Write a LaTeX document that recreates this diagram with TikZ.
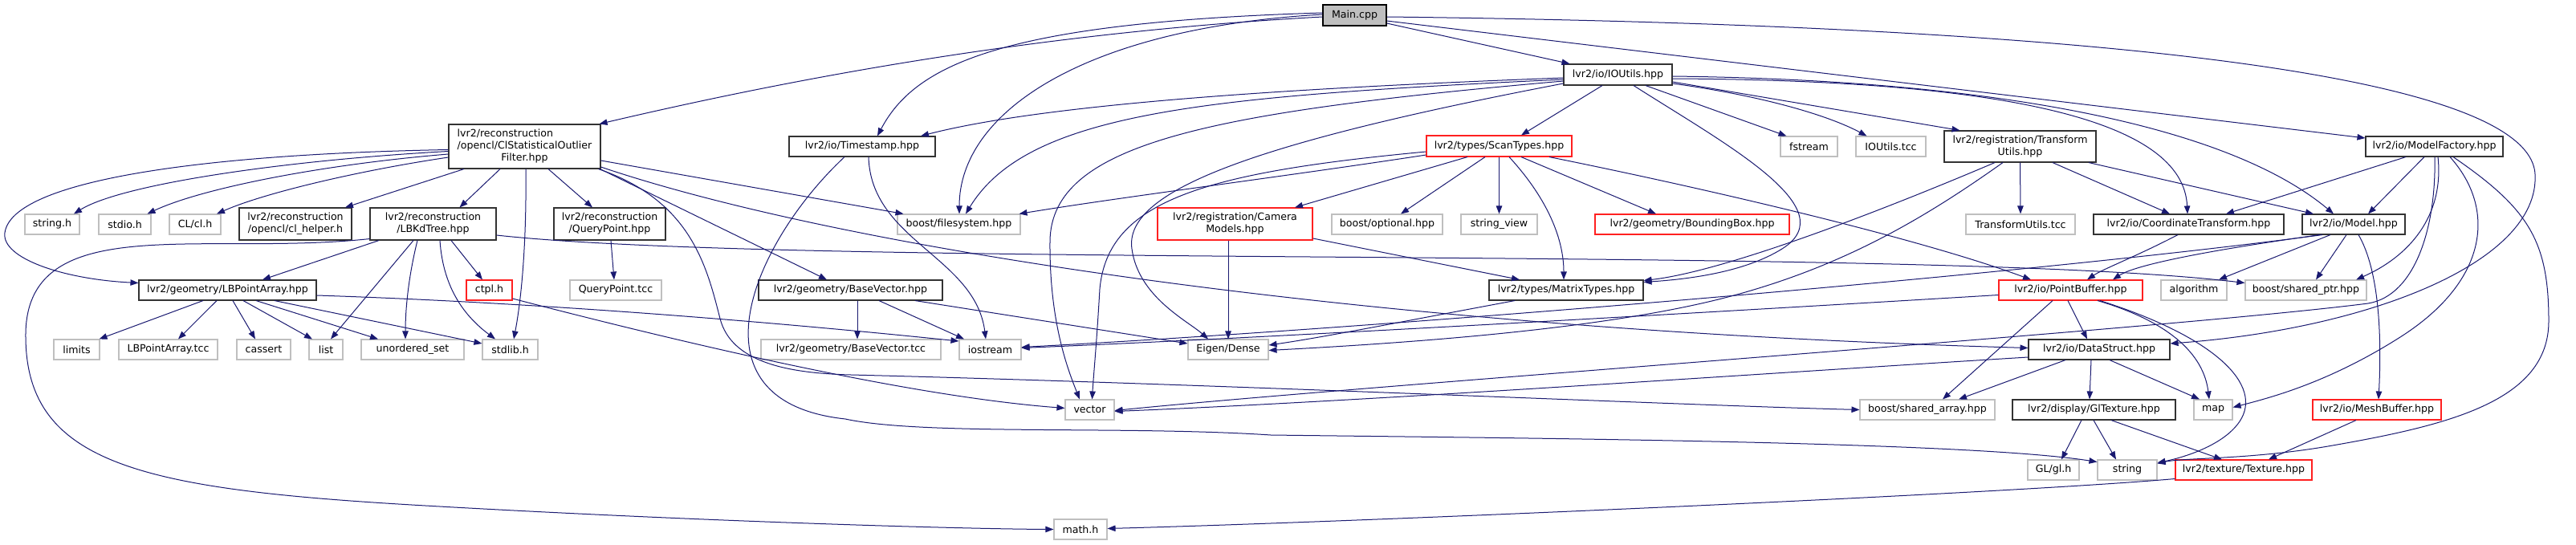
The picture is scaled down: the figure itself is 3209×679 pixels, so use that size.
\documentclass[tikz,border=0pt]{standalone}
\usepackage{fontspec}
\setmainfont{DejaVu Sans}
\usetikzlibrary{arrows.meta}
\definecolor{edgec}{HTML}{191970}
\definecolor{greyb}{HTML}{BFBFBF}
\definecolor{darkb}{HTML}{333333}
\definecolor{redb}{HTML}{FF2020}
\tikzset{
 box/.style={draw=darkb, line width=1.1pt, fill=white, inner sep=0pt, align=center, font=\fontsize{12.6}{15}\selectfont},
 ext/.style={box, draw=greyb},
 trunc/.style={box, draw=redb},
 root/.style={box, draw=black, fill=greyb},
 e/.style={draw=edgec, line width=1pt, -{Triangle[length=10pt,width=7.5pt]}},
}
\begin{document}
\begin{tikzpicture}[x=1pt,y=-1pt]
\useasboundingbox (0,0) rectangle (3209,679);
% nodes
\node[root, minimum width=79pt, minimum height=26pt] (main) at (1687.5,19) {Main.cpp};
\node[box, minimum width=189pt, minimum height=55pt] (clstat) at (653.5,182.5) {\makebox[0pt][l]{lvr2/reconstruction}\phantom{/opencl/ClStatisticalOutlier}\\/opencl/ClStatisticalOutlier\\Filter.hpp};
\node[box, minimum width=182pt, minimum height=25pt] (timestamp) at (1074,182.5) {lvr2/io/Timestamp.hpp};
\node[box, minimum width=135pt, minimum height=26pt] (ioutils) at (2015.5,93) {lvr2/io/IOUtils.hpp};
\node[box, minimum width=171pt, minimum height=25pt] (modelfactory) at (3032.5,182.5) {lvr2/io/ModelFactory.hpp};
\node[ext, minimum width=68pt, minimum height=25pt] (stringh) at (65,279.5) {string.h};
\node[ext, minimum width=65pt, minimum height=25pt] (stdioh) at (155.5,279.5) {stdio.h};
\node[ext, minimum width=64pt, minimum height=25pt] (clh) at (243,279.5) {CL/cl.h};
\node[box, minimum width=140pt, minimum height=40pt] (clhelper) at (368,279) {lvr2/reconstruction\\/opencl/cl\_helper.h};
\node[box, minimum width=157pt, minimum height=40pt] (lbkd) at (539.5,279) {lvr2/reconstruction\\/LBKdTree.hpp};
\node[box, minimum width=139pt, minimum height=40pt] (querypoint) at (759.5,279) {lvr2/reconstruction\\/QueryPoint.hpp};
\node[ext, minimum width=153pt, minimum height=25pt] (filesystem) at (1194.5,279.5) {boost/filesystem.hpp};
\node[trunc, minimum width=193pt, minimum height=40pt] (camera) at (1538.5,279) {lvr2/registration/Camera\\Models.hpp};
\node[trunc, minimum width=181pt, minimum height=26pt] (scantypes) at (1867.5,182) {lvr2/types/ScanTypes.hpp};
\node[ext, minimum width=138pt, minimum height=25pt] (optional) at (1728,279.5) {boost/optional.hpp};
\node[ext, minimum width=95pt, minimum height=25pt] (stringview) at (1867.5,279.5) {string\_view};
\node[trunc, minimum width=242pt, minimum height=25pt] (boundingbox) at (2108,279.5) {lvr2/geometry/BoundingBox.hpp};
\node[ext, minimum width=71pt, minimum height=25pt] (fstream) at (2253.5,182.5) {fstream};
\node[ext, minimum width=87pt, minimum height=25pt] (ioutilstcc) at (2355.5,182.5) {IOUtils.tcc};
\node[box, minimum width=189pt, minimum height=39pt] (transformutils) at (2516.5,182.5) {lvr2/registration/Transform\\Utils.hpp};
\node[ext, minimum width=136pt, minimum height=25pt] (transformutilstcc) at (2517,279.5) {TransformUtils.tcc};
\node[box, minimum width=237pt, minimum height=25pt] (coordtrans) at (2726.5,279.5) {lvr2/io/CoordinateTransform.hpp};
\node[box, minimum width=128pt, minimum height=25pt] (model) at (2932,279.5) {lvr2/io/Model.hpp};
\node[box, minimum width=221pt, minimum height=25pt] (lbpa) at (283.5,361.5) {lvr2/geometry/LBPointArray.hpp};
\node[trunc, minimum width=57pt, minimum height=25pt] (ctpl) at (609.5,361.5) {ctpl.h};
\node[ext, minimum width=114pt, minimum height=25pt] (querypointtcc) at (767,361.5) {QueryPoint.tcc};
\node[box, minimum width=229pt, minimum height=25pt] (basevector) at (1059.5,361.5) {lvr2/geometry/BaseVector.hpp};
\node[box, minimum width=192pt, minimum height=25pt] (matrixtypes) at (1951,361.5) {lvr2/types/MatrixTypes.hpp};
\node[trunc, minimum width=179pt, minimum height=25pt] (pointbuffer) at (2579.5,361.5) {lvr2/io/PointBuffer.hpp};
\node[ext, minimum width=82pt, minimum height=25pt] (algorithm) at (2733,361.5) {algorithm};
\node[ext, minimum width=151pt, minimum height=25pt] (sharedptr) at (2872.5,361.5) {boost/shared\_ptr.hpp};
\node[ext, minimum width=57pt, minimum height=25pt] (limits) at (95.5,435.5) {limits};
\node[ext, minimum width=123pt, minimum height=25pt] (lbpatcc) at (209.5,435.5) {LBPointArray.tcc};
\node[ext, minimum width=67pt, minimum height=25pt] (cassert) at (328.5,435.5) {cassert};
\node[ext, minimum width=42pt, minimum height=25pt] (list) at (406,435.5) {list};
\node[ext, minimum width=128pt, minimum height=25pt] (unorderedset) at (514,435.5) {unordered\_set};
\node[ext, minimum width=69pt, minimum height=25pt] (stdlibh) at (635.5,435.5) {stdlib.h};
\node[ext, minimum width=224pt, minimum height=25pt] (basevectortcc) at (1060,435.5) {lvr2/geometry/BaseVector.tcc};
\node[ext, minimum width=77pt, minimum height=25pt] (iostream) at (1233.5,435.5) {iostream};
\node[ext, minimum width=100pt, minimum height=25pt] (eigen) at (1530,435.5) {Eigen/Dense};
\node[box, minimum width=176pt, minimum height=25pt] (datastruct) at (2615,435.5) {lvr2/io/DataStruct.hpp};
\node[ext, minimum width=61pt, minimum height=25pt] (vector) at (1357.5,510.5) {vector};
\node[ext, minimum width=168pt, minimum height=25pt] (sharedarray) at (2401,510.5) {boost/shared\_array.hpp};
\node[box, minimum width=203pt, minimum height=25pt] (gltexture) at (2608.5,510.5) {lvr2/display/GlTexture.hpp};
\node[ext, minimum width=48pt, minimum height=25pt] (mapn) at (2757,510.5) {map};
\node[trunc, minimum width=160pt, minimum height=25pt] (meshbuffer) at (2961,510.5) {lvr2/io/MeshBuffer.hpp};
\node[ext, minimum width=64pt, minimum height=25pt] (glh) at (2558,585.5) {GL/gl.h};
\node[ext, minimum width=74pt, minimum height=25pt] (stringn) at (2650,585.5) {string};
\node[trunc, minimum width=170pt, minimum height=25pt] (texture) at (2795,585.5) {lvr2/texture/Texture.hpp};
\node[ext, minimum width=66pt, minimum height=25pt] (mathh) at (1346,659.5) {math.h};
% Main.cpp
\draw[e] ([yshift=-2pt]main.west) .. controls (1300,40) and (1000,95) .. ([xshift=-2pt]clstat.north east);
\draw[e] ([yshift=3pt]main.west) .. controls (1250,28) and (1140,80) .. ([xshift=19pt]timestamp.north);
\draw[e] ([yshift=1pt]main.west) .. controls (1350,35) and (1195,140) .. ([xshift=0.5pt]filesystem.north);
\draw[e] ([yshift=-10pt]main.east) -- ([xshift=-60pt]ioutils.north);
\draw[e] ([yshift=-7pt]main.east) -- ([yshift=10.5pt]modelfactory.west);
\draw[e] ([yshift=-2pt]main.east) .. controls (2500,30) and (3150,80) .. (3158,217) .. controls (3164,327) and (2950,410) .. ([yshift=7.5pt]datastruct.east);
% ClStatisticalOutlierFilter
\draw[e] ([yshift=-6pt]clstat.west) .. controls (350,200) and (150,230) .. ([xshift=27pt]stringh.north);
\draw[e] ([yshift=-9.5pt]clstat.west) .. controls (400,205) and (250,235) .. ([xshift=28pt]stdioh.north);
\draw[e] ([yshift=-13.5pt]clstat.west) .. controls (450,212) and (330,240) .. ([xshift=27pt]clh.north);
\draw[e] ([xshift=-75.5pt]clstat.south) -- ([xshift=62pt]clhelper.north);
\draw[e] ([yshift=-4pt]clstat.west) .. controls (250,192) and (15,225) .. (6,290) .. controls (1.5,322) and (80,348) .. ([yshift=9pt]lbpa.west);
\draw[e] ([xshift=-30.5pt]clstat.south) -- ([xshift=33pt]lbkd.north);
\draw[e] ([xshift=29.5pt]clstat.south) -- ([xshift=-21.5pt]querypoint.north);
\draw[e] ([xshift=1.5pt]clstat.south) .. controls (656,300) and (650,370) .. ([xshift=4.5pt]stdlibh.north);
\draw[e] ([yshift=-17.5pt]clstat.east) -- ([xshift=-69pt]filesystem.north);
\draw[e] ([yshift=-25.5pt]clstat.east) .. controls (1050,310) and (1700,410) .. ([yshift=2pt]datastruct.west);
\draw[e] ([xshift=-1pt]clstat.south east) -- ([xshift=-29.5pt]basevector.north);
\draw[e] ([xshift=-3pt]clstat.south east) .. controls (860,250) and (880,330) .. (897,397) .. controls (911,451) and (980,465) .. (1060,467) .. controls (1500,478) and (2100,505) .. (sharedarray.west);
% LBKdTree
\draw[e] ([xshift=-67.5pt]lbkd.south) -- ([xshift=43.5pt]lbpa.north);
\draw[e] ([yshift=2pt]lbkd.south west) .. controls (250,320) and (30,260) .. (32,420) .. controls (33,580) and (180,610) .. (530,630) .. controls (880,650) and (1200,659) .. (mathh.west);
\draw[e] ([xshift=-24.5pt]lbkd.south) -- ([xshift=6pt]list.north);
\draw[e] ([xshift=-19.5pt]lbkd.south) .. controls (510,340) and (505,380) .. ([xshift=-9pt]unorderedset.north);
\draw[e] ([xshift=8.5pt]lbkd.south) .. controls (552,360) and (580,395) .. ([xshift=-18.5pt]stdlibh.north);
\draw[e] ([xshift=22.5pt]lbkd.south) -- ([xshift=-8.5pt]ctpl.north);
\draw[e] ([yshift=-14pt]lbkd.east) .. controls (1000,335) and (2400,305) .. ([yshift=9pt]sharedptr.west);
% LBPointArray
\draw[e] ([xshift=-30.5pt]lbpa.south) -- ([xshift=28pt]limits.north);
\draw[e] ([xshift=-13.5pt]lbpa.south) -- ([xshift=12.5pt]lbpatcc.north);
\draw[e] ([xshift=6.5pt]lbpa.south) -- ([xshift=-10.5pt]cassert.north);
\draw[e] ([xshift=19.5pt]lbpa.south) -- ([xshift=-17pt]list.north);
\draw[e] ([xshift=35.5pt]lbpa.south) -- ([xshift=-43pt]unorderedset.north);
\draw[e] ([xshift=58.5pt]lbpa.south) -- ([yshift=7.5pt]stdlibh.west);
\draw[e] ([yshift=-6.5pt]lbpa.east) .. controls (700,378) and (1000,405) .. ([yshift=10.5pt]iostream.west);
% QueryPoint, ctpl, BaseVector, Timestamp
\draw[e] ([xshift=1.5pt]querypoint.south) -- ([xshift=-2pt]querypointtcc.north);
\draw[e] ([yshift=-10.5pt]ctpl.east) .. controls (900,440) and (1150,495) .. ([yshift=2pt]vector.west);
\draw[e] ([xshift=8.5pt]basevector.south) -- ([xshift=8pt]basevectortcc.north);
\draw[e] ([xshift=35.5pt]basevector.south) -- ([xshift=-32.5pt]iostream.north);
\draw[e] ([xshift=80.5pt]basevector.south) -- ([yshift=7.5pt]eigen.west);
\draw[e] ([xshift=8pt]timestamp.south) .. controls (1085,300) and (1215,320) .. ([xshift=-5.5pt]iostream.north);
\draw[e] ([xshift=-22pt]timestamp.south) .. controls (940,300) and (850,500) .. (1053,522) .. controls (1150,543) and (1400,530) .. (1583,542) .. controls (1900,546) and (2450,550) .. ([yshift=10pt]stringn.west);
% IOUtils
\draw[e] ([yshift=-4pt]ioutils.west) .. controls (1600,110) and (1300,130) .. ([xshift=73pt]timestamp.north);
\draw[e] ([yshift=-6pt]ioutils.west) .. controls (1500,120) and (1280,140) .. ([xshift=8.5pt]filesystem.north);
\draw[e] ([yshift=-8pt]ioutils.west) .. controls (1500,140) and (1310,180) .. (1308,300) .. controls (1307,400) and (1330,460) .. ([xshift=-12.5pt]vector.north);
\draw[e] ([yshift=-11pt]ioutils.west) .. controls (1550,180) and (1400,240) .. (1410,310) .. controls (1418,370) and (1480,400) .. ([xshift=-25pt]eigen.north);
\draw[e] ([xshift=-19.5pt]ioutils.south) -- ([xshift=27.5pt]scantypes.north);
\draw[e] ([xshift=34.5pt]ioutils.south) -- ([xshift=-28pt]fstream.north);
\draw[e] ([yshift=-11pt]ioutils.east) .. controls (2200,120) and (2280,145) .. ([xshift=-30pt]ioutilstcc.north);
\draw[e] ([yshift=-9pt]ioutils.east) -- ([xshift=-75pt]transformutils.north);
\draw[e] ([yshift=-5pt]ioutils.east) .. controls (2500,100) and (2720,150) .. ([xshift=-1.5pt]coordtrans.north);
\draw[e] ([yshift=-2pt]ioutils.east) .. controls (2500,100) and (2780,160) .. ([xshift=-25pt]model.north);
\draw[e] ([xshift=19.5pt]ioutils.south) .. controls (2150,180) and (2300,260) .. (2220,310) .. controls (2172,340) and (2100,348) .. ([yshift=10pt]matrixtypes.east);
% ScanTypes
\draw[e] ([yshift=-11pt]scantypes.west) .. controls (1600,220) and (1400,245) .. ([xshift=75pt]filesystem.north);
\draw[e] ([yshift=-7pt]scantypes.west) .. controls (1500,215) and (1380,250) .. (1370,360) .. controls (1366,430) and (1362,470) .. ([xshift=3pt]vector.north);
\draw[e] ([xshift=-39.5pt]scantypes.south) -- ([xshift=74.5pt]camera.north);
\draw[e] ([xshift=-17.5pt]scantypes.south) -- ([xshift=17pt]optional.north);
\draw[e] (scantypes.south) -- (stringview.north);
\draw[e] ([xshift=12.5pt]scantypes.south) .. controls (1930,250) and (1948,300) .. ([xshift=-3pt]matrixtypes.north);
\draw[e] ([xshift=27.5pt]scantypes.south) -- ([xshift=-45pt]boundingbox.north);
\draw[e] ([xshift=62.5pt]scantypes.south) .. controls (2150,240) and (2400,300) .. ([xshift=-49.5pt]pointbuffer.north);
% Camera, MatrixTypes
\draw[e] ([xshift=-8.5pt]camera.south) -- (eigen.north);
\draw[e] ([yshift=-18pt]camera.east) -- ([xshift=-58pt]matrixtypes.north);
\draw[e] ([xshift=-64pt]matrixtypes.south) .. controls (1750,400) and (1650,420) .. ([yshift=5.5pt]eigen.east);
% TransformUtils
\draw[e] ([xshift=-31.5pt]transformutils.south) .. controls (2350,260) and (2150,338) .. ([yshift=12pt]matrixtypes.east);
\draw[e] ([xshift=-21.5pt]transformutils.south) .. controls (2400,270) and (2300,330) .. (2160,368) .. controls (2020,406) and (1800,425) .. ([yshift=-1pt]eigen.east);
\draw[e] (transformutils.south) -- (transformutilstcc.north);
\draw[e] ([xshift=40.5pt]transformutils.south) -- ([xshift=-23.5pt]coordtrans.north);
\draw[e] ([xshift=85.5pt]transformutils.south) -- ([xshift=-50pt]model.north);
% CoordinateTransform, Model
\draw[e] ([xshift=-13.5pt]coordtrans.south) .. controls (2660,320) and (2620,335) .. ([xshift=20.5pt]pointbuffer.north);
\draw[e] ([xshift=-42pt]model.south) .. controls (2750,312) and (2660,330) .. ([xshift=52.5pt]pointbuffer.north);
\draw[e] ([xshift=-39pt]model.south) .. controls (2500,345) and (1700,410) .. ([yshift=3pt]iostream.east);
\draw[e] ([xshift=-29pt]model.south) -- ([xshift=31pt]algorithm.north);
\draw[e] ([xshift=-9pt]model.south) -- ([xshift=12.5pt]sharedptr.north);
\draw[e] ([xshift=6pt]model.south) .. controls (2960,330) and (2968,400) .. ([xshift=2pt]meshbuffer.north);
% ModelFactory
\draw[e] ([xshift=-35.5pt]modelfactory.south) -- ([xshift=46.5pt]coordtrans.north);
\draw[e] ([xshift=-12.5pt]modelfactory.south) -- ([xshift=18pt]model.north);
\draw[e] ([xshift=0.5pt]modelfactory.south) .. controls (3035,280) and (3010,368) .. (2950,378) .. controls (2700,410) and (1700,480) .. ([yshift=-1pt]vector.east);
\draw[e] ([xshift=4.5pt]modelfactory.south) .. controls (3045,270) and (3000,320) .. ([xshift=62.5pt]sharedptr.north);
\draw[e] ([xshift=19.5pt]modelfactory.south) .. controls (3110,260) and (3100,350) .. (2990,420) .. controls (2902,476) and (2830,495) .. ([yshift=3pt]mapn.east);
\draw[e] ([xshift=23.5pt]modelfactory.south) .. controls (3150,260) and (3175,300) .. (3175,400) .. controls (3175,500) and (3050,530) .. (2900,556) .. controls (2800,573) and (2720,570) .. ([yshift=8pt]stringn.east);
% PointBuffer
\draw[e] ([yshift=-6pt]pointbuffer.west) .. controls (2200,385) and (1600,420) .. ([yshift=2pt]iostream.east);
\draw[e] ([xshift=-3.5pt]pointbuffer.south) -- ([xshift=-15pt]datastruct.north);
\draw[e] ([xshift=-22.5pt]pointbuffer.south) -- ([xshift=19pt]sharedarray.north);
\draw[e] ([xshift=33.5pt]pointbuffer.south) .. controls (2700,400) and (2745,440) .. ([xshift=-5pt]mapn.north);
\draw[e] ([xshift=36.5pt]pointbuffer.south) .. controls (2760,420) and (2820,480) .. (2790,525) .. controls (2770,555) and (2720,570) .. ([yshift=9pt]stringn.east);
% DataStruct
\draw[e] ([yshift=-9.5pt]datastruct.west) .. controls (2200,465) and (1700,500) .. ([yshift=-2pt]vector.east);
\draw[e] ([xshift=-42pt]datastruct.south) -- ([xshift=39pt]sharedarray.north);
\draw[e] ([xshift=-10pt]datastruct.south) -- ([xshift=-5.5pt]gltexture.north);
\draw[e] ([xshift=13pt]datastruct.south) -- ([xshift=-17pt]mapn.north);
% GlTexture, MeshBuffer, Texture
\draw[e] ([xshift=-15.5pt]gltexture.south) -- ([xshift=10pt]glh.north);
\draw[e] ([xshift=-0.5pt]gltexture.south) -- ([xshift=-14pt]stringn.north);
\draw[e] ([xshift=21.5pt]gltexture.south) -- ([xshift=-27pt]texture.north);
\draw[e] ([xshift=-26pt]meshbuffer.south) -- ([xshift=31pt]texture.north);
\draw[e] ([yshift=-11pt]texture.west) .. controls (2500,615) and (1700,650) .. ([yshift=1pt]mathh.east);
\end{tikzpicture}
\end{document}
